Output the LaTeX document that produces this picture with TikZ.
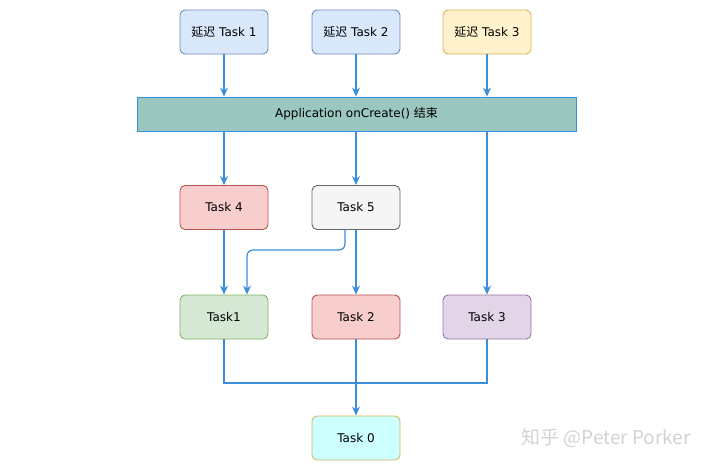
\documentclass[tikz,border=0pt]{standalone}
\usepackage{fontspec}
\setmainfont{DejaVu Sans}
\newfontfamily\cjk{Noto Sans CJK SC}
\usepackage{xcolor}
\usetikzlibrary{positioning}
\usetikzlibrary{arrows.meta}
\tikzset{>={Stealth[length=9pt,width=8pt]}}
\definecolor{flowblue}{HTML}{3A8EDB}
\definecolor{barfill}{HTML}{9AC7BF}
\definecolor{bluefill}{HTML}{DAE8FC}\definecolor{blueline}{HTML}{6C8EBF}
\definecolor{yellowfill}{HTML}{FFF2CC}\definecolor{yellowline}{HTML}{D6B656}
\definecolor{redfill}{HTML}{F8CECC}\definecolor{redline}{HTML}{B85450}
\definecolor{grayfill}{HTML}{F5F5F5}\definecolor{grayline}{HTML}{666666}
\definecolor{greenfill}{HTML}{D5E8D4}\definecolor{greenline}{HTML}{82B366}
\definecolor{purplefill}{HTML}{E1D5E7}\definecolor{purpleline}{HTML}{9673A6}
\definecolor{cyanfill}{HTML}{CCFFFF}
\newcommand{\YC}{{\cjk 延迟}}

\begin{document}
\begin{tikzpicture}[x=1pt,y=-1pt,
    task/.style={draw,rounded corners=5pt,line width=0.9pt,minimum width=88pt,minimum height=44pt,font=\fontsize{12}{14}\selectfont},
    flow/.style={draw=flowblue,line width=1.2pt}]
                \useasboundingbox (0,0) rectangle (720,467);
                \node[task,fill=bluefill,draw=blueline] (d1) at (224,32) {\YC{} Task 1};
                \node[task,fill=bluefill,draw=blueline] (d2) at (356,32) {\YC{} Task 2};
                \node[task,fill=yellowfill,draw=yellowline] (d3) at (487,32) {\YC{} Task 3};
                \node[draw=flowblue,fill=barfill,line width=0.9pt,minimum width=439pt,minimum height=34pt,font=\fontsize{12}{14}\selectfont] (bar) at (356.5,114) {Application onCreate() {\cjk 结束}};
                \node[task,fill=redfill,draw=redline] (t4) at (224,207.5) {Task 4};
                \node[task,fill=grayfill,draw=grayline] (t5) at (356,207.5) {Task 5};
                \node[task,fill=greenfill,draw=greenline] (t1) at (224,317) {Task1};
                \node[task,fill=redfill,draw=redline] (t2) at (356,317) {Task 2};
                \node[task,fill=purplefill,draw=purpleline] (t3) at (487,317) {Task 3};
                \node[task,fill=cyanfill,draw=yellowline] (t0) at (356,438) {Task 0};
                \node[text=gray!35,font=\cjk\fontsize{19}{22}\selectfont] (wm) at (606,438) {知乎 @Peter Porker};
                \draw[flow,->] (d1.south) -- (d1.south |- bar.north);
                \draw[flow,->] (d2.south) -- (d2.south |- bar.north);
                \draw[flow,->] (d3.south) -- (d3.south |- bar.north);
                \draw[flow,->] (t4.north |- bar.south) -- (t4.north);
                \draw[flow,->] (t5.north |- bar.south) -- (t5.north);
                \draw[flow,->] (t3.north |- bar.south) -- (t3.north);
                \draw[flow,->] (t4.south) -- (t1.north);
                \draw[flow,->] (t5.south) -- (t2.north);
                \draw[flow,->] (t2.south) -- (t0.north);
                \draw[flow,->,rounded corners=6pt] ([xshift=-11pt]t5.south) -- ++(0,20) -| ([xshift=23pt]t1.north);
                \coordinate (m) at (356,383);
                \draw[flow] (t1.south) |- (m) -| (t3.south);
            \end{tikzpicture}
\end{document}
